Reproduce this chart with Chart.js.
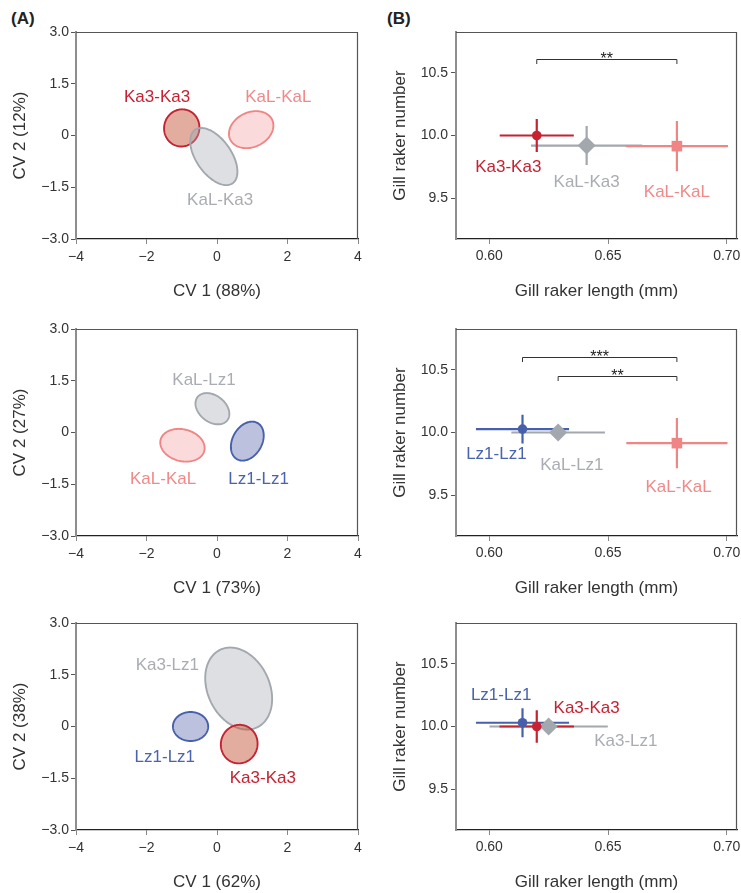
<!DOCTYPE html>
<html>
<head>
<meta charset="utf-8">
<script src="https://cdn.jsdelivr.net/npm/chart.js@4.4.1/dist/chart.umd.min.js"></script>
<style>
  body { margin: 0; background: #fff; width: 741px; height: 893px; position: relative; overflow: hidden; }
  canvas { position: absolute; }
  .tag { position: absolute; font: bold 17px "Liberation Sans", Arial, sans-serif; line-height: 17px; color: #222; }
</style>
</head>
<body>
<div class="tag" style="left:11px;top:10px">(A)</div>
<div class="tag" style="left:387px;top:10px">(B)</div>
<canvas id="cv1" width="370" height="300" style="left:0;top:0"></canvas>
<canvas id="gr1" width="371" height="300" style="left:370px;top:0"></canvas>
<canvas id="cv2" width="370" height="300" style="left:0;top:297px"></canvas>
<canvas id="gr2" width="371" height="300" style="left:370px;top:297px"></canvas>
<canvas id="cv3" width="370" height="300" style="left:0;top:591px"></canvas>
<canvas id="gr3" width="371" height="300" style="left:370px;top:591px"></canvas>
<script>
// ---- axis ticks ----
const cvXTicks = [-4, -2, 0, 2, 4];
const cvXTickLabels = ['\u22124', '\u22122', '0', '2', '4'];
const cvYTicks = [-3, -1.5, 0, 1.5, 3];
const cvYTickLabels = ['\u22123.0', '\u22121.5', '0', '1.5', '3.0'];
const grXTicks = [0.60, 0.65, 0.70];
const grXTickLabels = ['0.60', '0.65', '0.70'];
const grYTicks = [9.5, 10.0, 10.5];
const grYTickLabels = ['9.5', '10.0', '10.5'];

// ---- CV plots: ellipse centre, semi-axes and tilt (deg) per cross ----
const cvGroups1 = ['Ka3-Ka3', 'KaL-KaL', 'KaL-Ka3'];
const cvCx1 = [-1.0, 0.97, -0.09];
const cvCy1 = [0.22, 0.17, -0.61];
const cvSemiA1 = [0.54, 0.66, 0.94];
const cvSemiB1 = [0.50, 0.50, 0.50];
const cvTilt1 = [80, 27, -56];

const cvGroups2 = ['KaL-KaL', 'KaL-Lz1', 'Lz1-Lz1'];
const cvCx2 = [-0.98, -0.13, 0.86];
const cvCy2 = [-0.37, 0.69, -0.25];
const cvSemiA2 = [0.64, 0.54, 0.60];
const cvSemiB2 = [0.46, 0.38, 0.42];
const cvTilt2 = [-15, -40, 62];

const cvGroups3 = ['Ka3-Lz1', 'Lz1-Lz1', 'Ka3-Ka3'];
const cvCx3 = [0.615, -0.75, 0.63];
const cvCy3 = [1.10, 0.0, -0.51];
const cvSemiA3 = [1.24, 0.50, 0.56];
const cvSemiB3 = [0.88, 0.42, 0.52];
const cvTilt3 = [-66, 0, 80];

// ---- gill raker means with SE ----
const grGroups1 = ['KaL-Ka3', 'KaL-KaL', 'Ka3-Ka3'];
const grLen1 = [0.641, 0.679, 0.620];
const grLenErr1 = [0.0234, 0.0215, 0.0156];
const grNum1 = [9.92, 9.915, 10.0];
const grNumErr1 = [0.155, 0.2, 0.131];

const grGroups2 = ['KaL-Lz1', 'KaL-KaL', 'Lz1-Lz1'];
const grLen2 = [0.629, 0.679, 0.614];
const grLenErr2 = [0.0197, 0.0213, 0.0196];
const grNum2 = [10.0, 9.915, 10.027];
const grNumErr2 = [0.04, 0.2, 0.115];

const grGroups3 = ['Ka3-Lz1', 'Ka3-Ka3', 'Lz1-Lz1'];
const grLen3 = [0.625, 0.620, 0.614];
const grLenErr3 = [0.0249, 0.0157, 0.0196];
const grNum3 = [10.0, 10.0, 10.03];
const grNumErr3 = [0.03, 0.13, 0.115];

// significance brackets: [from, to, height, stars]
const grSig1 = [[0.620, 0.679, 10.61, '**']];
const grSig2 = [[0.614, 0.679, 10.60, '***'], [0.629, 0.679, 10.45, '**']];
const grSig3 = [];

const FONT = '"Liberation Sans", Arial, sans-serif';

const groupStyle = {
  'Ka3-Ka3': { line: '#c62232', fill: 'rgba(194,84,52,0.48)', text: '#c62232', marker: 'circle', r: 4.8 },
  'KaL-KaL': { line: '#ef8585', fill: 'rgba(239,133,133,0.3)', text: '#f08a8a', marker: 'rect', r: 7.5 },
  'KaL-Ka3': { line: '#a3a8ae', fill: 'rgba(160,167,178,0.36)', text: '#a9adb3', marker: 'rectRot', r: 9 },
  'KaL-Lz1': { line: '#a3a8ae', fill: 'rgba(160,167,178,0.36)', text: '#a9adb3', marker: 'rectRot', r: 9 },
  'Ka3-Lz1': { line: '#a3a8ae', fill: 'rgba(160,167,178,0.36)', text: '#a9adb3', marker: 'rectRot', r: 9 },
  'Lz1-Lz1': { line: '#4760ab', fill: 'rgba(70,82,160,0.36)', text: '#4a63ad', marker: 'circle', r: 4.8 }
};

// where each group name is written, in data units
const cvLabelAt = [
  { 'Ka3-Ka3': [-1.7, 1.12], 'KaL-KaL': [1.74, 1.12], 'KaL-Ka3': [0.09, -1.88] },
  { 'KaL-Lz1': [-0.37, 1.52], 'KaL-KaL': [-1.53, -1.36], 'Lz1-Lz1': [1.18, -1.36] },
  { 'Ka3-Lz1': [-1.41, 1.76], 'Lz1-Lz1': [-1.48, -0.88], 'Ka3-Ka3': [1.30, -1.51] }
];
const grLabelAt = [
  { 'Ka3-Ka3': [0.608, 9.745], 'KaL-Ka3': [0.641, 9.625], 'KaL-KaL': [0.679, 9.545] },
  { 'Lz1-Lz1': [0.603, 9.83], 'KaL-Lz1': [0.6348, 9.74], 'KaL-KaL': [0.6797, 9.565] },
  { 'Lz1-Lz1': [0.605, 10.248], 'Ka3-Ka3': [0.641, 10.146], 'Ka3-Lz1': [0.6575, 9.882] }
];

// top and right edges of the plot box
const frame = {
  id: 'frame',
  afterDraw(chart) {
    const { ctx, chartArea: a } = chart;
    ctx.save();
    ctx.strokeStyle = '#555';
    ctx.lineWidth = 1.2;
    ctx.beginPath();
    ctx.moveTo(a.left, a.top + 0.5);
    ctx.lineTo(a.right - 0.5, a.top + 0.5);
    ctx.lineTo(a.right - 0.5, a.bottom);
    ctx.stroke();
    ctx.restore();
  }
};

function drawNames(chart, names, at) {
  const { ctx, scales } = chart;
  ctx.save();
  ctx.font = '17px ' + FONT;
  ctx.textAlign = 'center';
  ctx.textBaseline = 'middle';
  names.forEach(n => {
    const p = at[n];
    ctx.fillStyle = groupStyle[n].text;
    ctx.fillText(n, scales.x.getPixelForValue(p[0]), scales.y.getPixelForValue(p[1]));
  });
  ctx.restore();
}

function axisCommon(ticks, labels, isX, opts) {
  return {
    type: 'linear',
    min: opts.min,
    max: opts.max,
    afterBuildTicks: s => { s.ticks = ticks.map(v => ({ value: v })); },
    afterFit: s => {
      if (isX) { s.height = 61; s.paddingLeft = 0; s.paddingRight = 0; }
      else { s.width = opts.width; s.paddingTop = 0; s.paddingBottom = 0; }
    },
    ticks: {
      font: { family: FONT, size: 14 },
      color: '#333',
      padding: opts.tickPad,
      maxRotation: 0,
      autoSkip: false,
      callback: (v, i) => labels[i]
    },
    grid: { drawOnChartArea: false, drawTicks: true, tickLength: 5, color: isX ? '#888' : '#555' },
    border: isX ? { display: true, color: '#222', width: 1.3 } : { display: true, color: '#8e8e8e', width: 2 },
    title: {
      display: true,
      text: opts.title,
      color: '#333',
      font: { family: FONT, size: 17, lineHeight: 1 },
      padding: isX ? { top: 0, bottom: 0 } : { top: opts.titlePad, bottom: 0 }
    }
  };
}

function cvChart(id, groups, cx, cy, sa, sb, tilt, labelAt, xTitle, yTitle) {
  const ellipses = {
    id: 'ellipses',
    beforeDatasetsDraw(chart) {
      const { ctx, scales } = chart;
      groups.forEach((g, i) => {
        const th = tilt[i] * Math.PI / 180;
        ctx.save();
        ctx.beginPath();
        for (let k = 0; k <= 144; k++) {
          const t = k / 144 * 2 * Math.PI;
          const dx = sa[i] * Math.cos(t), dy = sb[i] * Math.sin(t);
          const px = scales.x.getPixelForValue(cx[i] + dx * Math.cos(th) - dy * Math.sin(th));
          const py = scales.y.getPixelForValue(cy[i] + dx * Math.sin(th) + dy * Math.cos(th));
          if (k) ctx.lineTo(px, py); else ctx.moveTo(px, py);
        }
        ctx.closePath();
        ctx.fillStyle = groupStyle[g].fill;
        ctx.fill();
        ctx.strokeStyle = groupStyle[g].line;
        ctx.lineWidth = 1.9;
        ctx.stroke();
        ctx.restore();
      });
    },
    afterDatasetsDraw(chart) { drawNames(chart, groups, labelAt); }
  };
  return new Chart(document.getElementById(id), {
    type: 'scatter',
    data: {
      datasets: groups.map((g, i) => ({ label: g, data: [{ x: cx[i], y: cy[i] }], pointRadius: 0 }))
    },
    options: {
      responsive: false,
      animation: false,
      devicePixelRatio: 1,
      layout: { autoPadding: false, padding: { top: 32, right: 12, left: 0, bottom: 0 } },
      plugins: { legend: { display: false }, tooltip: { enabled: false } },
      scales: {
        x: axisCommon(cvXTicks, cvXTickLabels, true, { min: -4, max: 4, tickPad: 5, title: xTitle }),
        y: axisCommon(cvYTicks, cvYTickLabels, false, { min: -3, max: 3, tickPad: 2, width: 76, title: yTitle, titlePad: 11.5 })
      }
    },
    plugins: [ellipses, frame]
  });
}

function grChart(id, groups, len, lenErr, num, numErr, sig, labelAt) {
  const bars = {
    id: 'errorBars',
    beforeDatasetsDraw(chart) {
      const { ctx, scales } = chart;
      ctx.save();
      ctx.lineWidth = 2.2;
      groups.forEach((g, i) => {
        const x = scales.x.getPixelForValue(len[i]);
        const y = scales.y.getPixelForValue(num[i]);
        ctx.strokeStyle = groupStyle[g].line;
        ctx.beginPath();
        ctx.moveTo(scales.x.getPixelForValue(len[i] - lenErr[i]), y);
        ctx.lineTo(scales.x.getPixelForValue(len[i] + lenErr[i]), y);
        ctx.moveTo(x, scales.y.getPixelForValue(num[i] + numErr[i]));
        ctx.lineTo(x, scales.y.getPixelForValue(num[i] - numErr[i]));
        ctx.stroke();
      });
      ctx.restore();
    },
    afterDatasetsDraw(chart) {
      const { ctx, scales } = chart;
      ctx.save();
      ctx.strokeStyle = '#333';
      ctx.fillStyle = '#222';
      ctx.lineWidth = 1;
      ctx.font = '16px ' + FONT;
      ctx.textAlign = 'center';
      ctx.textBaseline = 'alphabetic';
      sig.forEach(([a, b, h, stars]) => {
        const x0 = scales.x.getPixelForValue(a), x1 = scales.x.getPixelForValue(b);
        const y = Math.round(scales.y.getPixelForValue(h)) + 0.5;
        ctx.beginPath();
        ctx.moveTo(x0, y + 4.5);
        ctx.lineTo(x0, y);
        ctx.lineTo(x1, y);
        ctx.lineTo(x1, y + 4.5);
        ctx.stroke();
        ctx.fillText(stars, (x0 + x1) / 2, y + 4);
      });
      ctx.restore();
      drawNames(chart, groups, labelAt);
    }
  };
  // markers: the last group is listed first so it sits on top
  const order = groups.map((g, i) => i).reverse();
  return new Chart(document.getElementById(id), {
    type: 'scatter',
    data: {
      datasets: order.map(i => ({
        label: groups[i],
        data: [{ x: len[i], y: num[i] }],
        pointStyle: groupStyle[groups[i]].marker,
        pointRadius: groupStyle[groups[i]].r,
        backgroundColor: groupStyle[groups[i]].line,
        borderColor: groupStyle[groups[i]].line,
        borderWidth: 0
      }))
    },
    options: {
      responsive: false,
      animation: false,
      devicePixelRatio: 1,
      layout: { autoPadding: false, padding: { top: 32, right: 4, left: 0, bottom: 0 } },
      plugins: { legend: { display: false }, tooltip: { enabled: false } },
      scales: {
        x: axisCommon(grXTicks, grXTickLabels, true, { min: 0.586, max: 0.7043, tickPad: 4, title: 'Gill raker length (mm)' }),
        y: axisCommon(grYTicks, grYTickLabels, false, { min: 9.175, max: 10.825, tickPad: 3, width: 86, title: 'Gill raker number', titlePad: 21.5 })
      }
    },
    plugins: [bars, frame]
  });
}

cvChart('cv1', cvGroups1, cvCx1, cvCy1, cvSemiA1, cvSemiB1, cvTilt1, cvLabelAt[0], 'CV 1 (88%)', 'CV 2 (12%)');
cvChart('cv2', cvGroups2, cvCx2, cvCy2, cvSemiA2, cvSemiB2, cvTilt2, cvLabelAt[1], 'CV 1 (73%)', 'CV 2 (27%)');
cvChart('cv3', cvGroups3, cvCx3, cvCy3, cvSemiA3, cvSemiB3, cvTilt3, cvLabelAt[2], 'CV 1 (62%)', 'CV 2 (38%)');
grChart('gr1', grGroups1, grLen1, grLenErr1, grNum1, grNumErr1, grSig1, grLabelAt[0]);
grChart('gr2', grGroups2, grLen2, grLenErr2, grNum2, grNumErr2, grSig2, grLabelAt[1]);
grChart('gr3', grGroups3, grLen3, grLenErr3, grNum3, grNumErr3, grSig3, grLabelAt[2]);
</script>
</body>
</html>
